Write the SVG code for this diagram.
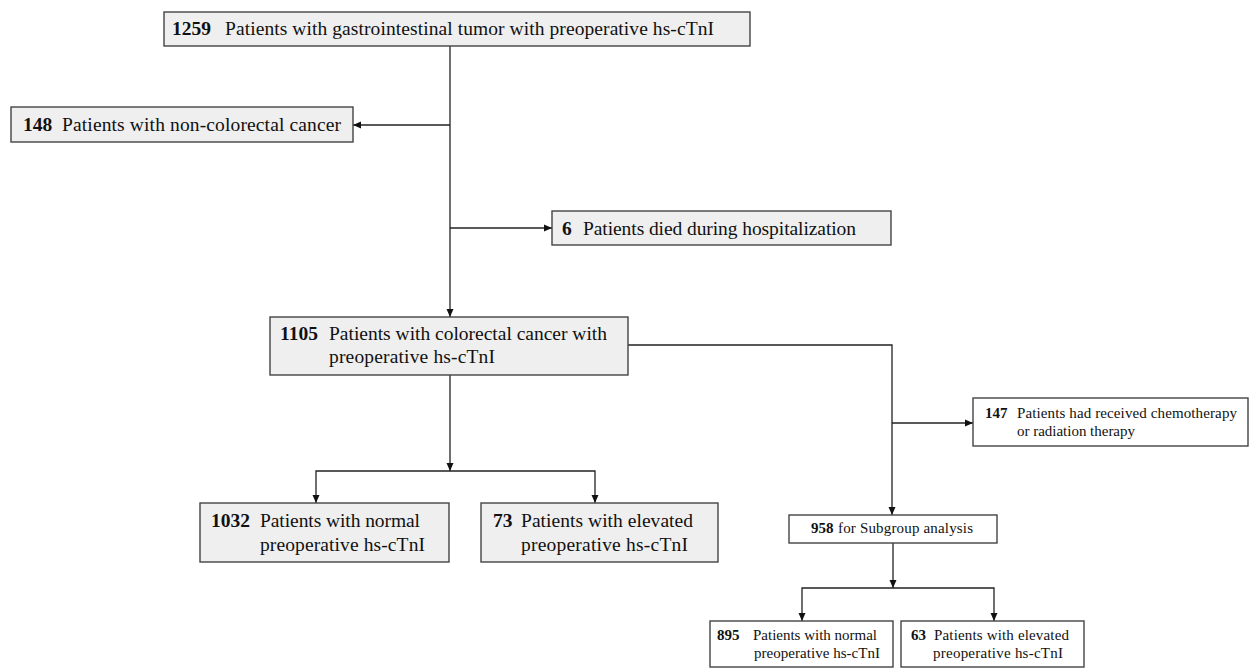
<svg xmlns="http://www.w3.org/2000/svg" width="1250" height="668" viewBox="0 0 1250 668">
<defs>
<marker id="ah" markerWidth="9" markerHeight="8" refX="8" refY="4" orient="auto" markerUnits="userSpaceOnUse">
<path d="M0,0.5 L8,4 L0,7.5 z" fill="#111"/>
</marker>
<style>
.box{stroke:#444;stroke-width:1.4;fill:#efefef}
.wbox{stroke:#444;stroke-width:1.4;fill:#fff}
.t{font-family:"Liberation Serif","Times New Roman",serif;font-size:19.5px;fill:#111}
.s{font-family:"Liberation Serif","Times New Roman",serif;font-size:15px;fill:#111}
.b{font-weight:bold}
.ln{stroke:#222;stroke-width:1.3;fill:none}
.ar{stroke:#222;stroke-width:1.3;fill:none;marker-end:url(#ah)}
</style>
</defs>
<rect width="1250" height="668" fill="#fff"/>
<g id="connectors">
<line class="ar" x1="450" y1="46" x2="450" y2="317"/>
<line class="ar" x1="450" y1="125" x2="353" y2="125"/>
<line class="ar" x1="450" y1="228" x2="552" y2="228"/>
<polyline class="ar" points="628,345 892,345 892,515"/>
<line class="ar" x1="892" y1="423" x2="973" y2="423"/>
<line class="ar" x1="450" y1="375" x2="450" y2="471"/>
<polyline class="ar" points="450,471 316,471 316,503"/>
<polyline class="ar" points="450,471 595,471 595,503"/>
<line class="ar" x1="893" y1="543" x2="893" y2="588"/>
<polyline class="ar" points="893,588 802,588 802,621"/>
<polyline class="ar" points="893,588 994,588 994,621"/>
</g>
<g id="n1259">
<rect class="box" x="164" y="12" width="586" height="34"/>
<text class="t" y="35"><tspan class="b" x="172">1259</tspan><tspan x="225" textLength="489" lengthAdjust="spacing">Patients with gastrointestinal tumor with preoperative hs-cTnI</tspan></text>
</g>
<g id="n148">
<rect class="box" x="11" y="107" width="342" height="35"/>
<text class="t" y="131"><tspan class="b" x="23">148</tspan><tspan x="62" textLength="279" lengthAdjust="spacing">Patients with non-colorectal cancer</tspan></text>
</g>
<g id="n6">
<rect class="box" x="552" y="211" width="339" height="34"/>
<text class="t" y="235"><tspan class="b" x="562">6</tspan><tspan x="583" textLength="273" lengthAdjust="spacing">Patients died during hospitalization</tspan></text>
</g>
<g id="n1105">
<rect class="box" x="270" y="317" width="358" height="58"/>
<text class="t" y="340"><tspan class="b" x="280">1105</tspan><tspan x="329" textLength="278" lengthAdjust="spacing">Patients with colorectal cancer with</tspan></text>
<text class="t" x="329" y="363" textLength="166" lengthAdjust="spacing">preoperative hs-cTnI</text>
</g>
<g id="n147">
<rect class="wbox" x="973" y="398" width="275" height="48"/>
<text class="s" y="418"><tspan class="b" x="985">147</tspan><tspan x="1017" textLength="220" lengthAdjust="spacing">Patients had received chemotherapy</tspan></text>
<text class="s" x="1017" y="436" textLength="118" lengthAdjust="spacing">or radiation therapy</text>
</g>
<g id="n1032">
<rect class="box" x="200" y="503" width="249" height="59"/>
<text class="t" y="527"><tspan class="b" x="211">1032</tspan><tspan x="260" textLength="160" lengthAdjust="spacing">Patients with normal</tspan></text>
<text class="t" x="260" y="551" textLength="165" lengthAdjust="spacing">preoperative hs-cTnI</text>
</g>
<g id="n73">
<rect class="box" x="481" y="503" width="237" height="59"/>
<text class="t" y="527"><tspan class="b" x="493">73</tspan><tspan x="521" textLength="172" lengthAdjust="spacing">Patients with elevated</tspan></text>
<text class="t" x="521" y="551" textLength="167" lengthAdjust="spacing">preoperative hs-cTnI</text>
</g>
<g id="n958">
<rect class="wbox" x="789" y="515" width="208" height="28"/>
<text class="s" y="533"><tspan class="b" x="811">958</tspan><tspan x="838" textLength="135" lengthAdjust="spacing">for Subgroup analysis</tspan></text>
</g>
<g id="n895">
<rect class="wbox" x="710" y="621" width="183" height="46"/>
<text class="s" y="640"><tspan class="b" x="717">895</tspan><tspan x="753" textLength="124" lengthAdjust="spacing">Patients with normal</tspan></text>
<text class="s" x="754" y="658" textLength="126" lengthAdjust="spacing">preoperative hs-cTnI</text>
</g>
<g id="n63">
<rect class="wbox" x="901" y="621" width="183" height="46"/>
<text class="s" y="640"><tspan class="b" x="911">63</tspan><tspan x="934" textLength="135" lengthAdjust="spacing">Patients with elevated</tspan></text>
<text class="s" x="933" y="658" textLength="130" lengthAdjust="spacing">preoperative hs-cTnI</text>
</g>
</svg>
